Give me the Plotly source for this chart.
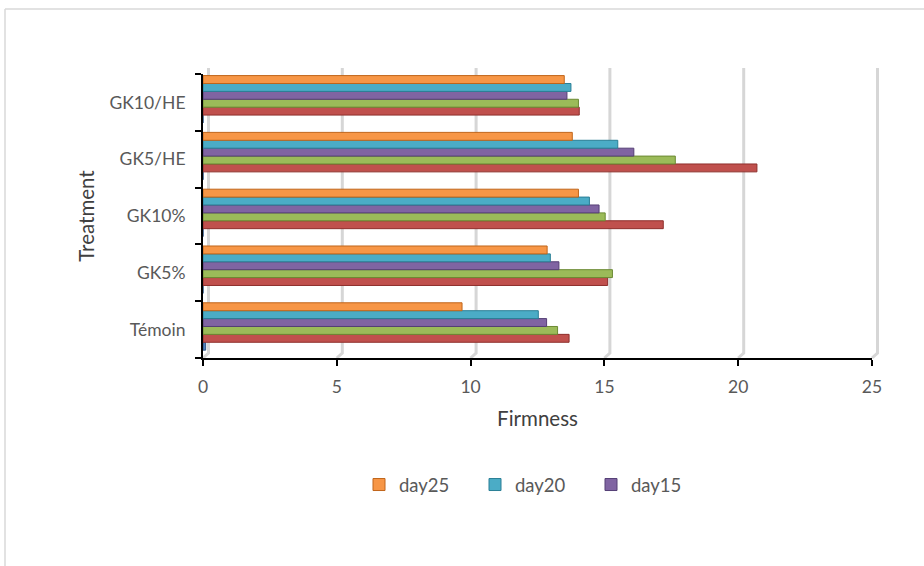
import plotly.graph_objects as go

# Firmness by treatment over storage time
treatments = ["Témoin", "GK5%", "GK10%", "GK5/HE", "GK10/HE"]

day0 = [0.1, 0, 0, 0, 0]
day5 = [13.68, 15.12, 17.2, 20.7, 14.06]
day10 = [13.25, 15.3, 15.03, 17.65, 14.03]
day15 = [12.84, 13.3, 14.8, 16.1, 13.6]
day20 = [12.53, 12.98, 14.44, 15.5, 13.75]
day25 = [9.68, 12.86, 14.03, 13.8, 13.5]

x_ticks = [0, 5, 10, 15, 20, 25]
x_max = 25

series = [
    ("day0", day0, "#4F81BD", "#2C5282", False),
    ("day5", day5, "#C0504D", "#8E2F2C", False),
    ("day10", day10, "#9BBB59", "#6B8A33", False),
    ("day15", day15, "#8064A2", "#553F75", True),
    ("day20", day20, "#4BACC6", "#2A7F96", True),
    ("day25", day25, "#F79646", "#C0651A", True),
]

# figure geometry (pixels)
W, H = 924, 566
ML, MR, MT, MB = 203, 52, 74, 208
PW, PH = W - ML - MR, H - MT - MB

# bar layout inside each category band
bar_w = 0.139
group_lift = 0.055
n = len(series)
base = -n * bar_w / 2 + group_lift

fig = go.Figure()
for i, (name, vals, col, edge, show) in enumerate(series):
    fig.add_trace(go.Bar(
        y=treatments, x=vals, orientation="h", name=name,
        marker=dict(color=col, line=dict(color=edge, width=1)),
        width=bar_w, offset=base + i * bar_w,
        showlegend=show,
    ))

shapes = []
# back-wall gridlines with a slight depth offset
for v in x_ticks:
    shapes.append(dict(
        type="path", xref="paper", yref="paper",
        xsizemode="pixel", ysizemode="pixel", xanchor=v / x_max, yanchor=0,
        path="M0,0 L5.5,5 L5.5,290",
        line=dict(color="#D6D6D6", width=3), layer="below",
    ))


def px_x(p):
    return (p - ML) / PW


def px_y(p):
    return (H - MB - p) / PH


# chart area frame
shapes.append(dict(type="line", xref="paper", yref="paper",
                   x0=px_x(5), x1=px_x(W + 5), y0=px_y(9), y1=px_y(9),
                   line=dict(color="#D9D9D9", width=1.5)))
shapes.append(dict(type="line", xref="paper", yref="paper",
                   x0=px_x(5), x1=px_x(5), y0=px_y(9), y1=px_y(H + 5),
                   line=dict(color="#D9D9D9", width=1.5)))

font_family = "Lato, 'Open Sans', sans-serif"

fig.update_layout(
    width=W, height=H,
    margin=dict(l=ML, r=MR, t=MT, b=MB, pad=0),
    paper_bgcolor="white", plot_bgcolor="white",
    barmode="overlay",
    font=dict(family=font_family, color="#595959", size=17),
    shapes=shapes,
    xaxis=dict(
        range=[0, x_max], tickvals=x_ticks, showgrid=False, zeroline=False,
        showline=True, linecolor="black", linewidth=2,
        ticks="outside", ticklen=6, tickwidth=2, tickcolor="black",
        tickfont=dict(size=17.5, color="#595959"),
        ticklabelstandoff=6,
        title=dict(text="Firmness", font=dict(size=20.5, color="#404040"), standoff=16),
    ),
    yaxis=dict(
        type="category", categoryorder="array", categoryarray=treatments,
        range=[-0.5, 4.5], showgrid=False, zeroline=False,
        showline=True, linecolor="black", linewidth=2,
        ticks="outside", tickson="boundaries", ticklen=6, tickwidth=2, tickcolor="black",
        tickfont=dict(size=17.5, color="#595959"),
        ticklabelstandoff=12,
        title=dict(text="Treatment", font=dict(size=20.5, color="#404040"), standoff=9),
    ),
    legend=dict(
        orientation="h", traceorder="reversed",
        x=px_x(359), xanchor="left", y=px_y(485), yanchor="middle",
        font=dict(size=18.5, color="#595959"),
        entrywidth=71, entrywidthmode="pixels",
        itemwidth=30,
    ),
)

fig.write_html("out.html")
